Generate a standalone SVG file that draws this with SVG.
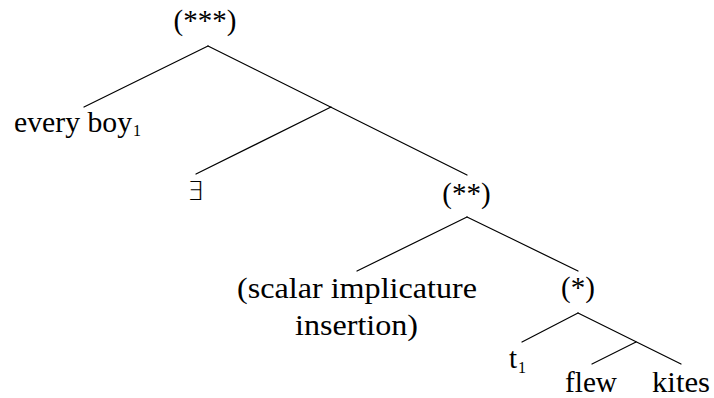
<svg xmlns="http://www.w3.org/2000/svg" width="714" height="398" viewBox="0 0 714 398">
<style>
  .bg { fill: #ffffff; }
  .lbl { font-family: 'Liberation Serif', 'DejaVu Serif', serif; font-size: 29px; fill: #000; }
  .sub { font-family: 'Liberation Serif', 'DejaVu Serif', serif; font-size: 16px; fill: #000; }
  .sym { font-family: 'DejaVu Sans', sans-serif; font-size: 26px; font-weight: 200; fill: #000; }
  .mid { text-anchor: middle; }
  .edge { stroke: #000; stroke-width: 1.2; fill: none; stroke-linecap: round; }
</style>
<rect class="bg" x="0" y="0" width="714" height="398"/>
<g id="connectors">
  <line class="edge" x1="208" y1="46" x2="84" y2="107"/>
  <line class="edge" x1="208" y1="46" x2="467" y2="175"/>
  <line class="edge" x1="331" y1="107" x2="196" y2="174"/>
  <line class="edge" x1="467" y1="217" x2="357" y2="271"/>
  <line class="edge" x1="467" y1="217" x2="578" y2="271"/>
  <line class="edge" x1="578" y1="313" x2="522" y2="342"/>
  <line class="edge" x1="578" y1="313" x2="681" y2="364"/>
  <line class="edge" x1="636" y1="342" x2="592" y2="364"/>
</g>
<g id="node-root">
  <text class="lbl mid" x="205" y="30">(***)</text>
</g>
<g id="node-every-boy">
  <text class="lbl" x="14" y="132" textLength="118" lengthAdjust="spacingAndGlyphs">every boy</text>
  <text class="sub" x="133" y="136">1</text>
</g>
<g id="node-exists">
  <text class="sym" x="187" y="200">∃</text>
</g>
<g id="node-dstar">
  <text class="lbl mid" x="466.5" y="203">(**)</text>
</g>
<g id="node-sii">
  <text class="lbl" x="237" y="298" textLength="240" lengthAdjust="spacingAndGlyphs">(scalar implicature</text>
  <text class="lbl" x="295" y="335" textLength="123" lengthAdjust="spacingAndGlyphs">insertion)</text>
</g>
<g id="node-star">
  <text class="lbl mid" x="578" y="297">(*)</text>
</g>
<g id="node-t1">
  <text class="lbl" x="509" y="368">t</text>
  <text class="sub" x="518" y="373">1</text>
</g>
<g id="node-flew">
  <text class="lbl" x="565" y="392" textLength="52" lengthAdjust="spacingAndGlyphs">flew</text>
</g>
<g id="node-kites">
  <text class="lbl" x="652" y="392" textLength="58" lengthAdjust="spacingAndGlyphs">kites</text>
</g>
</svg>
